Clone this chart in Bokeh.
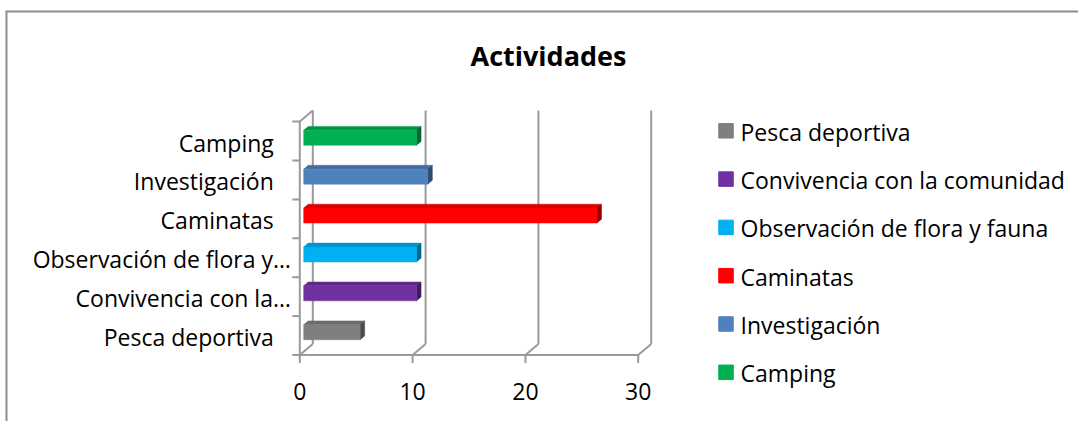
from bokeh.plotting import figure
from bokeh.models import Range1d, ColumnDataSource
from bokeh.core.properties import value
from bokeh.embed import file_html
from bokeh.resources import INLINE

# ---------------- data ----------------
categories = ["Pesca deportiva", "Convivencia con la comunidad",
              "Observación de flora y fauna", "Caminatas",
              "Investigación", "Camping"]
axis_labels = ["Pesca deportiva", "Convivencia con la…",
               "Observación de flora y…", "Caminatas",
               "Investigación", "Camping"]
values = [5, 10, 10, 26, 11, 10]
colors = ["#7F7F7F", "#7030A0", "#00B0F0", "#FF0000", "#4F81BD", "#00B050"]
x_ticks = [0, 10, 20, 30]
title_text = "Actividades"

# ---------------- geometry ----------------
OFF = 0             # page offset of the plot
W, H = 1078, 421
SX = 11.28          # px per value unit
SY = 38.9           # px per category slot
X0 = 299.3 - OFF    # plot px of value 0 (front)
Y0 = 354.5 - OFF    # plot px from top of floor front edge
FONT = "Open Sans"
FS = "23px"


def dx(page_x):
    return (page_x - OFF - X0) / SX


def dy(page_y):
    return (Y0 - (page_y - OFF)) / SY


def shade(hexc, f):
    h = hexc.lstrip("#")
    r, g, b = (int(h[i:i + 2], 16) for i in (0, 2, 4))
    return "#%02x%02x%02x" % (int(r * f), int(g * f), int(b * f))


p = figure(width=W, height=H,
           x_range=Range1d(-X0 / SX, (W - X0) / SX),
           y_range=Range1d(-(H - Y0) / SY, Y0 / SY),
           x_axis_type=None, y_axis_type=None,
           output_backend="svg", toolbar_location=None,
           min_border=0, outline_line_color=None)
p.background_fill_color = "white"
p.border_fill_color = "white"

n = len(categories)
xmax = max(x_ticks)
DXU = 13 / SX
DYU = 11 / SY
WALL = "#9A9A9A"
LW = 2

# chart area border (top and left visible)
p.segment(x0=[dx(5), dx(6)], y0=[dy(11), dy(11)],
          x1=[dx(1090), dx(6)], y1=[dy(11), dy(440)],
          line_color="#8E8E8E", line_width=2)

# back wall gridlines
p.segment(x0=[t + DXU for t in x_ticks], y0=[DYU] * len(x_ticks),
          x1=[t + DXU for t in x_ticks], y1=[n + DYU] * len(x_ticks),
          line_color=WALL, line_width=LW)
# floor diagonals
p.segment(x0=x_ticks, y0=[0] * len(x_ticks),
          x1=[t + DXU for t in x_ticks], y1=[DYU] * len(x_ticks),
          line_color=WALL, line_width=LW)
# floor front edge, left front edge, left wall top
p.segment(x0=[0, 0, 0], y0=[0, 0, n], x1=[xmax, 0, DXU], y1=[0, n, n + DYU],
          line_color=WALL, line_width=LW)
# tick stubs
p.segment(x0=[-7.5 / SX] * (n + 1), y0=list(range(n + 1)),
          x1=[0] * (n + 1), y1=list(range(n + 1)),
          line_color=WALL, line_width=LW)
p.segment(x0=x_ticks, y0=[0] * len(x_ticks),
          x1=x_ticks, y1=[-8 / SY] * len(x_ticks),
          line_color=WALL, line_width=LW)

# ---------------- 3D bars ----------------
F1 = 0.3
BD = 0.35
HH = 7.5 / SY
left, right, bottom, top = [], [], [], []
top_xs, top_ys, side_xs, side_ys = [], [], [], []
for i, v in enumerate(values):
    l = F1 * DXU
    r = v + F1 * DXU
    yc = i + 0.5 + F1 * DYU
    b, t = yc - HH, yc + HH
    left.append(l); right.append(r); bottom.append(b); top.append(t)
    ox, oy = BD * DXU, BD * DYU
    top_xs.append([l, r, r + ox, l + ox])
    top_ys.append([t, t, t + oy, t + oy])
    side_xs.append([r, r + ox, r + ox, r])
    side_ys.append([b, b + oy, t + oy, t])

src = ColumnDataSource(dict(left=left, right=right, bottom=bottom, top=top,
                            color=colors,
                            top_color=[shade(c, 0.85) for c in colors],
                            side_color=[shade(c, 0.6) for c in colors],
                            top_xs=top_xs, top_ys=top_ys,
                            side_xs=side_xs, side_ys=side_ys))
p.patches(xs="top_xs", ys="top_ys", fill_color="top_color",
          line_color="top_color", line_width=0.5, source=src)
p.patches(xs="side_xs", ys="side_ys", fill_color="side_color",
          line_color="side_color", line_width=0.5, source=src)
p.quad(left="left", right="right", bottom="bottom", top="top",
       fill_color="color", line_color="color", line_width=0.5, source=src)

# ---------------- category labels ----------------
lab_src = ColumnDataSource(dict(
    x=[0] * n, y=[i + 0.5 for i in range(n)], text=axis_labels,
    xo=[-9 if s.endswith("…") else -26 for s in axis_labels]))
p.text(x="x", y="y", text="text", x_offset="xo", y_offset=1.5, source=lab_src,
       text_align="right", text_baseline="middle",
       text_font=value(FONT), text_font_size=FS, text_color="#000000")

# x tick labels
p.text(x=x_ticks, y=[0] * len(x_ticks), text=[str(t) for t in x_ticks],
       y_offset=36, text_align="center", text_baseline="middle",
       text_font=value(FONT), text_font_size=FS, text_color="#000000")

# title
p.text(x=[dx(548)], y=[dy(55)], text=[title_text],
       text_align="center", text_baseline="middle",
       text_font=value(FONT), text_font_size="27px", text_font_style="bold",
       text_color="#000000")

# legend
leg_y = [dy(130.3 + 48.3 * k) for k in range(n)]
p.scatter(x=[dx(725.5)] * n, y=leg_y, marker="square", size=14.5,
          fill_color=colors, line_color=colors)
p.text(x=[dx(740)] * n, y=leg_y, text=categories, y_offset=1,
       text_align="left", text_baseline="middle",
       text_font=value(FONT), text_font_size=FS, text_color="#000000")

open("out.html", "w").write(file_html(p, INLINE))
